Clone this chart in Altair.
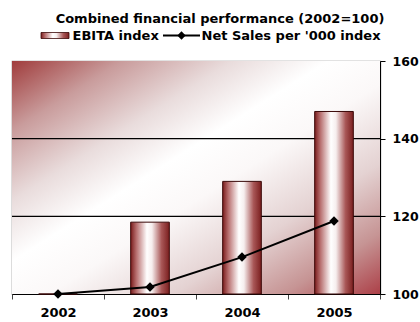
import altair as alt
import pandas as pd

years = ["2002", "2003", "2004", "2005"]
ebita_index = [100, 118.5, 129, 147]
net_sales_index = [100, 101.8, 109.5, 118.8]
y_ticks = [100, 120, 140, 160]
grid_lines = [120, 140]

title_text = "Combined financial performance (2002=100)"
legend_bar = "EBITA index"
legend_line = "Net Sales per '000 index"

df = pd.DataFrame({"year": years, "ebita": ebita_index, "net": net_sales_index})

FONT = "DejaVu Sans"

bar_grad = alt.LinearGradient(
    gradient="linear", x1=0, x2=1, y1=0, y2=0,
    stops=[
        alt.GradientStop(offset=0, color="#7a1c1c"),
        alt.GradientStop(offset=0.15, color="#b87070"),
        alt.GradientStop(offset=0.42, color="#ffffff"),
        alt.GradientStop(offset=0.55, color="#f6eeee"),
        alt.GradientStop(offset=0.8, color="#a85656"),
        alt.GradientStop(offset=1, color="#7a1e1e"),
    ],
)

bg_grad = alt.LinearGradient(
    gradient="linear", x1=0, y1=0, x2=1, y2=1,
    stops=[
        alt.GradientStop(offset=0, color="#a03c3c"),
        alt.GradientStop(offset=0.15, color="#c99c9c"),
        alt.GradientStop(offset=0.3, color="#e9dcdc"),
        alt.GradientStop(offset=0.43, color="#ffffff"),
        alt.GradientStop(offset=0.55, color="#fbf8f8"),
        alt.GradientStop(offset=0.72, color="#e4d2d2"),
        alt.GradientStop(offset=0.87, color="#c69494"),
        alt.GradientStop(offset=1, color="#ac4048"),
    ],
)

one = pd.DataFrame({"a": [0]})

background = alt.Chart(one).mark_rect(color=bg_grad).encode(
    x=alt.value(0), x2=alt.value("width"), y=alt.value(0), y2=alt.value("height")
)

y_scale = alt.Scale(domain=[100, 160], zero=False, nice=False)

grid = alt.Chart(pd.DataFrame({"g": grid_lines})).mark_rule(
    color="black", strokeWidth=1.2
).encode(y=alt.Y("g:Q", scale=y_scale))

x_enc = alt.X(
    "year:N",
    title=None,
    scale=alt.Scale(paddingInner=0, paddingOuter=0),
    axis=alt.Axis(
        labelAngle=0, labelFont=FONT, labelFontWeight="bold", labelFontSize=13,
        labelColor="black", domainColor="black", tickColor="#444444",
        tickSize=5, tickBand="extent", labelPadding=7, domainWidth=1.2,
    ),
)

bars = alt.Chart(df).mark_bar(
    color=bar_grad, stroke="#3a0808", strokeWidth=1, width=alt.RelativeBandSize(0.42)
).encode(
    x=x_enc,
    y=alt.Y(
        "ebita:Q", title=None, scale=y_scale,
        axis=alt.Axis(
            orient="right", values=y_ticks, labelFont=FONT, labelFontWeight="bold",
            labelFontSize=12.5, labelColor="black", domainColor="black",
            tickColor="black", tickSize=5, labelPadding=7, domainWidth=1.2,
            grid=False,
        ),
    ),
    y2=alt.datum(100),
)

line = alt.Chart(df).mark_line(
    color="black", strokeWidth=2,
    point=alt.OverlayMarkDef(shape="diamond", size=90, filled=True, color="black"),
).encode(
    x=alt.X("year:N"),
    y=alt.Y("net:Q", scale=y_scale),
)

title_mark = alt.Chart(one).mark_text(
    text=title_text, font=FONT, fontWeight="bold", fontSize=13,
    align="center", baseline="alphabetic", color="black",
).encode(x=alt.value(208), y=alt.value(-38.5))

swatch = alt.Chart(one).mark_rect(
    color=bar_grad, stroke="#3a0808", strokeWidth=0.8,
).encode(x=alt.value(29), x2=alt.value(57), y=alt.value(-28.5), y2=alt.value(-22.5))

leg_text1 = alt.Chart(one).mark_text(
    text=legend_bar, font=FONT, fontWeight="bold", fontSize=13,
    align="left", baseline="alphabetic", color="black",
).encode(x=alt.value(60.5), y=alt.value(-21.5))

leg_line = alt.Chart(one).mark_rule(color="black", strokeWidth=2).encode(
    x=alt.value(151), x2=alt.value(188), y=alt.value(-25.5)
)

leg_pt = alt.Chart(one).mark_point(
    shape="diamond", size=70, filled=True, color="black", opacity=1
).encode(x=alt.value(169.5), y=alt.value(-25.5))

leg_text2 = alt.Chart(one).mark_text(
    text=legend_line, font=FONT, fontWeight="bold", fontSize=13,
    align="left", baseline="alphabetic", color="black",
).encode(x=alt.value(189.5), y=alt.value(-21.5))

chart = alt.layer(
    background, grid, bars, line, title_mark, swatch, leg_text1, leg_line, leg_pt, leg_text2
).properties(
    width=368, height=233,
    autosize=alt.AutoSizeParams(type="none"),
    padding={"left": 12, "top": 61, "right": 40, "bottom": 28},
    background="white",
).configure_view(
    stroke="#8a8a8a", strokeWidth=1.2,
)

chart.save("out.html", embed_options={"renderer": "svg", "actions": False})
